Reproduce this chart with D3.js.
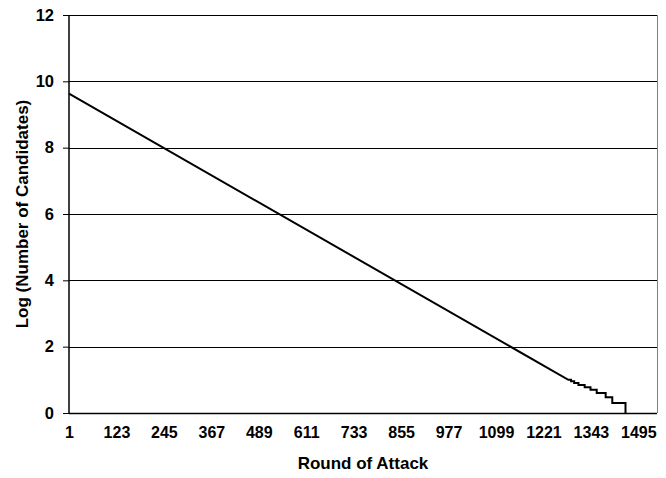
<!DOCTYPE html>
<html>
<head>
<meta charset="utf-8">
<script src="https://cdn.jsdelivr.net/npm/d3@7"></script>
<style>
    body { margin: 0; background: #fff; }
    svg text { font-family: 'Liberation Sans', Arial, sans-serif; font-weight: bold; fill: #000; }
</style>
</head>
<body>
<div id="chart"></div>
<script>
// straight part of the curve: [round, log value]
const linePoints = [[1, 9.63], [1285, 1.0]];

// staircase at the end: round where the value drops, new value
const stepRounds = [1292, 1300, 1311, 1327, 1342, 1358, 1381, 1398, 1432];
const stepValues = [0.954, 0.903, 0.845, 0.778, 0.699, 0.602, 0.477, 0.301, 0];

// category labels on the x axis
const xTickRounds = [1, 123, 245, 367, 489, 611, 733, 855, 977, 1099, 1221, 1343, 1465];
const xTickLabels = ['1', '123', '245', '367', '489', '611', '733', '855', '977', '1099', '1221', '1343', '1495'];
const yTicks = [0, 2, 4, 6, 8, 10, 12];

const width = 666;
const height = 478;
const margin = {t:15, r:9, b:65, l:69};
const w = width - margin.l - margin.r;
const h = height - margin.t - margin.b;

const svg = d3.select('#chart')
    .append('svg')
    .attr('width', width)
    .attr('height', height);

const plot = svg.append('g')
    .attr('transform', `translate(${margin.l},${margin.t})`);

const x = d3.scaleLinear().domain([1, 1513]).range([0, w]);
const y = d3.scaleLinear().domain([0, 12]).range([h, 0]);

// gridlines
plot.selectAll('.grid')
    .data(yTicks.filter(d => d > 0))
    .enter()
    .append('line')
    .attr('x1', 0)
    .attr('x2', w)
    .attr('y1', d => Math.round(y(d)) + 0.5)
    .attr('y2', d => Math.round(y(d)) + 0.5)
    .attr('stroke', '#000')
    .attr('stroke-width', 1);

// right border
plot.append('line')
    .attr('x1', w + 0.5).attr('x2', w + 0.5)
    .attr('y1', 0).attr('y2', h)
    .attr('stroke', '#808080')
    .attr('stroke-width', 1);

// y axis
const yAxis = d3.axisLeft(y)
    .tickValues(yTicks)
    .tickSize(6)
    .tickPadding(9);
const yG = plot.append('g').call(yAxis);
yG.select('.domain').remove();
yG.selectAll('line').attr('stroke', '#000');
yG.selectAll('text').style('font-size', '16.5px');

plot.append('line')
    .attr('x1', 0).attr('x2', 0)
    .attr('y1', 0).attr('y2', h)
    .attr('stroke', '#000')
    .attr('stroke-width', 1.5);

plot.append('line')
    .attr('x1', 0).attr('x2', w)
    .attr('y1', h + 0.5).attr('y2', h + 0.5)
    .attr('stroke', '#000')
    .attr('stroke-width', 1.5);

// x axis labels
const xAxis = d3.axisBottom(x)
    .tickValues(xTickRounds)
    .tickFormat((d, i) => xTickLabels[i])
    .tickSize(0)
    .tickPadding(14);
const xG = plot.append('g')
    .attr('transform', `translate(0,${h})`)
    .call(xAxis);
xG.select('.domain').remove();
xG.selectAll('text').style('font-size', '16px');

// build the path vertices
const pts = linePoints.slice();
let prev = linePoints[linePoints.length - 1][1];
stepRounds.forEach((r, i) => {
    pts.push([r, prev]);
    pts.push([r, stepValues[i]]);
    prev = stepValues[i];
});

const line = d3.line()
    .x(d => x(d[0]))
    .y(d => y(d[1]));

plot.append('path')
    .datum(pts)
    .attr('d', line)
    .attr('fill', 'none')
    .attr('stroke', '#000')
    .attr('stroke-width', 2);

// axis titles
svg.append('text')
    .attr('x', margin.l + w / 2)
    .attr('y', 469)
    .attr('text-anchor', 'middle')
    .style('font-size', '17px')
    .text('Round of Attack');

svg.append('text')
    .attr('transform', `translate(28,${margin.t + h / 2}) rotate(-90)`)
    .attr('text-anchor', 'middle')
    .style('font-size', '17px')
    .text('Log (Number of Candidates)');
</script>
</body>
</html>
